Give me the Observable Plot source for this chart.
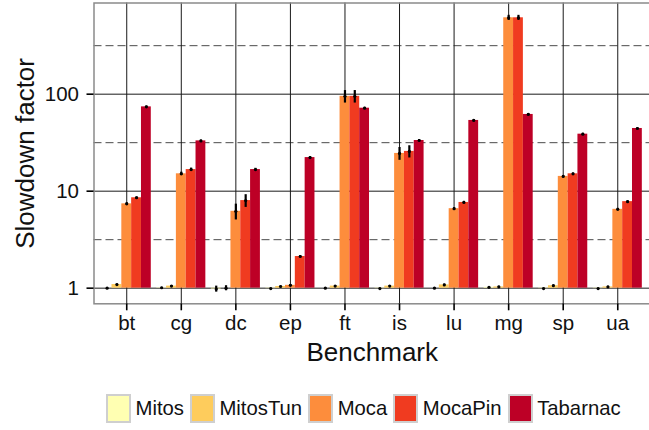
<!DOCTYPE html>
<html>
<head>
<meta charset="utf-8">
<script src="https://cdn.jsdelivr.net/npm/d3@7"></script>
<script src="https://cdn.jsdelivr.net/npm/@observablehq/plot@0.6"></script>
<style>
  html, body { margin: 0; padding: 0; background: #fff; }
  #wrap { position: relative; width: 649px; height: 430px; overflow: hidden;
          font-family: "Liberation Sans", Arial, Helvetica, sans-serif; color: #111; }
  #legend { position: absolute; left: 106px; top: 394px; display: flex; align-items: center;
            font-size: 20.3px; line-height: 29px; white-space: nowrap; }
  .item { display: flex; align-items: center; margin-right: 6px; }
  .sw { width: 21px; height: 25px; border: 2px solid #cfcfcf; margin-right: 4.5px; box-sizing: content-box; }
</style>
</head>
<body>
<div id="wrap"><div id="chart"></div><div id="legend"></div></div>
<script>
const benchmarks = ["bt", "cg", "dc", "ep", "ft", "is", "lu", "mg", "sp", "ua"];
const seriesNames = ["Mitos", "MitosTun", "Moca", "MocaPin", "Tabarnac"];
const seriesColors = ["#FFFFB2", "#FECC5C", "#FD8D3C", "#F03B20", "#BD0026"];

const mitos       = [1.00, 1.01, 0.98, 0.99, 1.00, 0.99, 1.00, 1.02, 0.99, 0.99];
const mitosErr    = [0.01, 0.01, 0.07, 0.01, 0.01, 0.01, 0.01, 0.01, 0.01, 0.01];
const mitosTun    = [1.09, 1.05, 1.00, 1.04, 1.05, 1.05, 1.08, 1.03, 1.06, 1.03];
const mitosTunErr = [0.015, 0.015, 0.06, 0.015, 0.015, 0.015, 0.02, 0.015, 0.015, 0.015];
const moca        = [7.4, 15.1, 6.2, 1.07, 95, 24.5, 6.6, 613, 14.2, 6.5];
const mocaErr     = [0.2, 0.6, 1.15, 0.02, 14, 3.7, 0.15, 37, 0.3, 0.15];
const mocaPin     = [8.55, 16.7, 8.0, 2.12, 95, 25.7, 7.65, 613, 15.1, 7.8];
const mocaPinErr  = [0.2, 0.6, 1.2, 0.05, 14, 3.7, 0.2, 37, 0.3, 0.15];
const tabarnac    = [74, 33, 16.7, 22.2, 71.7, 33.3, 53.6, 61.8, 38.7, 44.3];
const tabarnacErr = [1.5, 0.6, 0.5, 0.5, 1.5, 0.8, 1.0, 1.2, 0.8, 0.9];

const yTicks = [1, 10, 100];
const yMinor = [3.162, 31.62, 316.2];

const values = [mitos, mitosTun, moca, mocaPin, tabarnac];
const errs = [mitosErr, mitosTunErr, mocaErr, mocaPinErr, tabarnacErr];
const rows = [];
benchmarks.forEach((b, i) => seriesNames.forEach((s, k) => {
  rows.push({i, k, bench: b, series: s, value: values[k][i], err: errs[k][i]});
}));

const dodge = 0.9 / seriesNames.length;
const center = d => d.i + (d.k - (seriesNames.length - 1) / 2) * dodge;
const font = '"Liberation Sans", Arial, Helvetica, sans-serif';

const chart = Plot.plot({
  width: 649,
  height: 380,
  marginLeft: 93.5,
  marginRight: -1,
  marginTop: 2.5,
  marginBottom: 76.7,
  style: {fontFamily: font, fontSize: "20px", background: "#fff", color: "#111", overflow: "visible"},
  x: {type: "linear", domain: [-0.6, benchmarks.length - 0.4], axis: null},
  y: {type: "log", domain: [0.69, 871], axis: null},
  color: {domain: seriesNames, range: seriesColors},
  marks: [
    Plot.ruleY(yMinor, {stroke: "#4a4a4a", strokeWidth: 1, strokeDasharray: "8,4"}),
    Plot.ruleY(yTicks, {stroke: "#1a1a1a", strokeWidth: 1}),
    Plot.ruleX(d3.range(benchmarks.length), {stroke: "#1a1a1a", strokeWidth: 1}),
    Plot.rect(rows, {
      x1: d => center(d) - dodge / 2,
      x2: d => center(d) + dodge / 2,
      y1: 1,
      y2: "value",
      fill: "series"
    }),
    Plot.ruleX(rows, {x: center, y1: d => d.value - d.err, y2: d => d.value + d.err, stroke: "#000", strokeWidth: 2.2}),
    Plot.dot(rows, {x: center, y: "value", r: 1.6, fill: "#000"}),
    Plot.frame({stroke: "#8a8a8a", strokeWidth: 1.5}),
    Plot.axisY({ticks: yTicks, tickFormat: d => String(d), tickSize: 7, tickPadding: 8,
                strokeWidth: 1.6, stroke: "#000", label: null, fontSize: 20.5, fill: "#111"}),
    Plot.axisX({ticks: d3.range(benchmarks.length), tickFormat: i => benchmarks[i], tickSize: 7, tickPadding: 4.5,
                strokeWidth: 1.6, stroke: "#000", label: null, fontSize: 20.5, fill: "#111"}),
    Plot.text(["Benchmark"], {frameAnchor: "bottom", dy: 48.4, fontSize: 26, fill: "#111",
                              textAnchor: "middle", lineAnchor: "middle", text: d => d}),
    Plot.text(["Slowdown factor"], {frameAnchor: "left", dx: -68.5, rotate: -90, fontSize: 26, fill: "#111",
                                    textAnchor: "middle", lineAnchor: "middle", text: d => d})
  ]
});
document.getElementById("chart").appendChild(chart);

const legend = d3.select("#legend");
seriesNames.forEach((s, k) => {
  const item = legend.append("div").attr("class", "item");
  item.append("div").attr("class", "sw").style("background", seriesColors[k]);
  item.append("span").text(s);
});
</script>
</body>
</html>
